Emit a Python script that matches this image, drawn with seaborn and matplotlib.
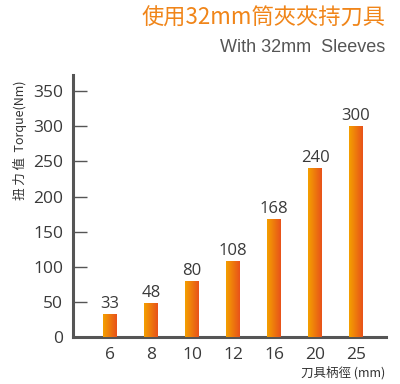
import matplotlib
matplotlib.use("Agg")
import matplotlib.pyplot as plt
import seaborn as sns
import numpy as np
import pandas as pd
from matplotlib.colors import LinearSegmentedColormap

diameters = ["6", "8", "10", "12", "16", "20", "25"]
torque = [33, 48, 80, 108, 168, 240, 300]
yticks = [0, 50, 100, 150, 200, 250, 300, 350]

sns.set_theme(style="white")
plt.rcParams['font.family'] = ['Noto Sans CJK TC', 'DejaVu Sans']

df = pd.DataFrame({"d": diameters, "t": torque})

W, H = 400, 384
fig = plt.figure(figsize=(W / 100, H / 100), dpi=100)
ax = fig.add_axes([73 / W, 1 - 337 / H, (386 - 73) / W, (337 - 75) / H])

sns.barplot(data=df, x="d", y="t", ax=ax, width=0.32, color="#f08300", saturation=1)

cmap = LinearSegmentedColormap.from_list("g", ["#f4a000", "#e8521a"])
grad = np.linspace(0, 1, 64).reshape(1, -1)
for p in ax.patches:
    x0, y0 = p.get_x(), p.get_y()
    w, h = p.get_width(), p.get_height()
    im = ax.imshow(grad, cmap=cmap, aspect="auto", extent=[x0, x0 + w, y0, y0 + h], zorder=3)
    im.set_clip_path(p)
    p.set_edgecolor("none")

num_font = ["Open Sans", "DejaVu Sans"]
for i, v in enumerate(torque):
    ax.text(i, v + 3, str(v), ha="center", va="bottom", fontsize=12, color="#3a3a3a",
            family=num_font, zorder=4)

ax.set_xlim(-0.9, 6.73)
ax.set_ylim(0, 373)
ax.set_yticks(yticks)
ax.set_yticklabels([str(v) for v in yticks])
ax.set_xlabel("")
ax.set_ylabel("")

for s in ["top", "right"]:
    ax.spines[s].set_visible(False)
for s in ["left", "bottom"]:
    ax.spines[s].set_color("#555555")
    ax.spines[s].set_linewidth(2.2)

ax.tick_params(axis="y", direction="in", length=10, width=1, color="#555555",
               labelsize=12.5, labelcolor="#3a3a3a", pad=7, left=True)
ax.tick_params(axis="x", length=0, labelsize=12.5, labelcolor="#3a3a3a", pad=7)
for lab in ax.get_xticklabels() + ax.get_yticklabels():
    lab.set_family(num_font)

fig.text(385 / W, 1 - 18 / H, "使用32mm筒夾夾持刀具", ha="right", va="center",
         fontsize=16, color="#f08519")
fig.text(385 / W, 1 - 48 / H, "With 32mm  Sleeves", ha="right", va="center",
         fontsize=13, color="#555555", family=["Liberation Sans", "DejaVu Sans"])
fig.text(20 / W, 1 - 140 / H, "扭 力 值  Torque(Nm)", ha="center", va="center",
         rotation=90, fontsize=9, color="#333333")
fig.text(385 / W, 1 - 373 / H, "刀具柄徑 (mm)", ha="right", va="center",
         fontsize=9, color="#333333")

fig.savefig("out.png", dpi=100)
